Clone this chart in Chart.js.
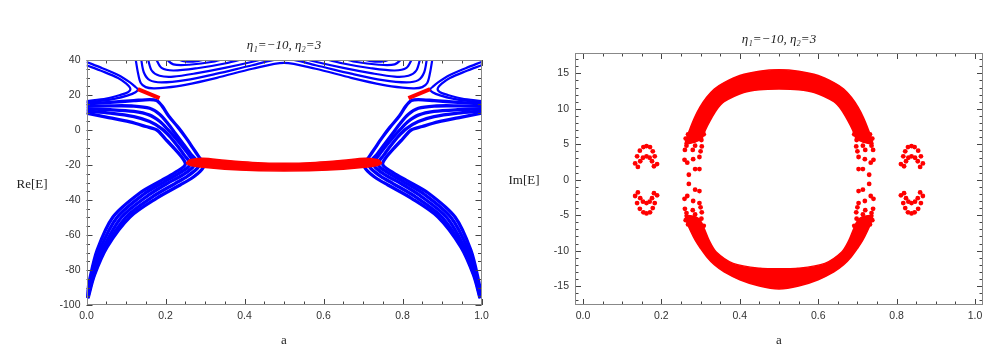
<!DOCTYPE html>
<html><head><meta charset="utf-8">
<script src="https://cdn.jsdelivr.net/npm/chart.js@4.4.1/dist/chart.umd.min.js"></script>
<style>
html,body{margin:0;padding:0;background:#fff;width:1004px;height:353px;overflow:hidden;}
#c1{position:absolute;left:0;top:0;}
#c2{position:absolute;left:500px;top:0;}
</style></head><body>
<canvas id="c1" width="500" height="353"></canvas>
<canvas id="c2" width="504" height="353"></canvas>
<script>
// ---------- Left panel: Re[E] vs a ----------
// chevron bands (left side a, right side a, shared E)
const cv1A  = [0, 0.06, 0.12, 0.16, 0.178, 0.192, 0.208, 0.232, 0.252, 0.27, 0.285, 0.297, 0.292, 0.268, 0.237, 0.178, 0.11, 0.052, 0.02, 0.004];
const cv1AR = [1, 0.94, 0.88, 0.84, 0.822, 0.808, 0.792, 0.768, 0.748, 0.73, 0.715, 0.703, 0.708, 0.732, 0.763, 0.822, 0.89, 0.948, 0.98, 0.996];
const cv1E  = [15.0, 15.8, 16.8, 17.4, 16.8, 13.5, 8.0, 1.5, -4.5, -10.5, -15.5, -19.4, -22.6, -27.3, -31.4, -38.9, -49.7, -66.9, -83.0, -96.0];
const cv2A  = [0, 0.06, 0.12, 0.16, 0.185, 0.205, 0.225, 0.245, 0.265, 0.28, 0.286, 0.28, 0.255, 0.224, 0.167, 0.099, 0.046, 0.017, 0.003];
const cv2AR = [1, 0.94, 0.88, 0.84, 0.815, 0.795, 0.775, 0.755, 0.735, 0.72, 0.714, 0.72, 0.745, 0.776, 0.833, 0.901, 0.954, 0.983, 0.997];
const cv2E  = [13.5, 13.8, 13.7, 12.4, 9.0, 4.0, -2.0, -8.0, -14.0, -17.5, -19.3, -22.0, -26.5, -30.6, -38.2, -50.0, -68.0, -84.0, -96.0];
const cv3A  = [0, 0.06, 0.12, 0.16, 0.185, 0.205, 0.225, 0.245, 0.262, 0.274, 0.268, 0.243, 0.21, 0.156, 0.088, 0.04, 0.014, 0.002];
const cv3AR = [1, 0.94, 0.88, 0.84, 0.815, 0.795, 0.775, 0.755, 0.738, 0.726, 0.732, 0.757, 0.79, 0.844, 0.912, 0.96, 0.986, 0.998];
const cv3E  = [12.0, 11.6, 10.6, 8.5, 5.0, 0.5, -4.5, -10.0, -15.0, -19.0, -21.6, -25.8, -29.8, -37.4, -50.0, -68.5, -84.5, -96.0];
const cv4A  = [0, 0.06, 0.12, 0.16, 0.19, 0.21, 0.23, 0.248, 0.262, 0.257, 0.232, 0.2, 0.145, 0.077, 0.033, 0.011, 0.001];
const cv4AR = [1, 0.94, 0.88, 0.84, 0.81, 0.79, 0.77, 0.752, 0.738, 0.743, 0.768, 0.8, 0.855, 0.923, 0.967, 0.989, 0.999];
const cv4E  = [10.8, 9.6, 7.6, 4.8, 0.8, -3.5, -9.0, -14.5, -18.9, -21.3, -25.1, -29.2, -36.7, -50.0, -68.8, -85.0, -96.0];
const cv5A  = [0, 0.05, 0.11, 0.15, 0.178, 0.2, 0.222, 0.24, 0.25, 0.247, 0.222, 0.19, 0.135, 0.067, 0.027, 0.008, 0];
const cv5AR = [1, 0.95, 0.89, 0.85, 0.822, 0.8, 0.778, 0.76, 0.75, 0.753, 0.778, 0.81, 0.865, 0.933, 0.973, 0.992, 1];
const cv5E  = [9.6, 7.4, 4.6, 2.0, 0.0, -5.2, -10.5, -15.2, -18.8, -20.8, -24.6, -28.8, -36.0, -49.7, -68.6, -85.5, -96.0];
// "<" curves from the top corners to the saddles
const b1A  = [0, 0.04, 0.08, 0.11, 0.124, 0.13, 0.124, 0.105, 0.07, 0.035, 0];
const b1AR = [1, 0.96, 0.92, 0.89, 0.876, 0.87, 0.876, 0.895, 0.93, 0.965, 1];
const b1E  = [38.9, 35.3, 31.4, 27.2, 24.6, 23.2, 21.6, 19.8, 17.8, 16.6, 16.0];
const b2A  = [0, 0.04, 0.08, 0.1, 0.111, 0.105, 0.085, 0.05, 0];
const b2AR = [1, 0.96, 0.92, 0.9, 0.889, 0.895, 0.915, 0.95, 1];
const b2E  = [37.0, 33.6, 29.7, 26.6, 23.6, 21.6, 20.0, 18.0, 16.5];
// upper arches
const ar1A = [0.124, 0.13, 0.137, 0.15, 0.17, 0.2, 0.25, 0.33, 0.42, 0.5, 0.58, 0.67, 0.75, 0.8, 0.83, 0.85, 0.863, 0.87, 0.876];
const ar1E = [41, 33, 27, 24.5, 23.8, 24.2, 25.8, 29.8, 35, 38.4, 35, 29.8, 25.8, 24.2, 23.8, 24.5, 27, 33, 41];
const ar2A = [0.138, 0.145, 0.16, 0.19, 0.25, 0.33, 0.42, 0.5, 0.58, 0.67, 0.75, 0.81, 0.84, 0.855, 0.862];
const ar2E = [41, 33, 28.5, 27.2, 28.5, 32.2, 37, 40.8, 37, 32.2, 28.5, 27.2, 28.5, 33, 41];
const ar3A = [0.155, 0.165, 0.185, 0.22, 0.28, 0.35, 0.42, 0.46];
const ar3AR = [0.845, 0.835, 0.815, 0.78, 0.72, 0.65, 0.58, 0.54];
const ar3E = [41, 34, 31, 30.5, 32.5, 35.5, 39, 41.5];
const ar4A = [0.175, 0.19, 0.22, 0.28, 0.35, 0.41];
const ar4AR = [0.825, 0.81, 0.78, 0.72, 0.65, 0.59];
const ar4E = [41, 35.5, 34, 35.3, 38, 41.5];
const ar5A = [0.2, 0.22, 0.26, 0.32, 0.36];
const ar5AR = [0.8, 0.78, 0.74, 0.68, 0.64];
const ar5E = [41, 37.5, 37.3, 39, 41.5];
const ar6A = [0.225, 0.25, 0.28, 0.31];
const ar6AR = [0.775, 0.75, 0.72, 0.69];
const ar6E = [41, 39.2, 39.4, 41];
// red (complex) parts
const sadLA = [0.13, 0.185], sadLE = [23.4, 18.2];
const sadRA = [0.815, 0.87], sadRE = [18.2, 23.4];
const bandA    = [0.252, 0.262, 0.295, 0.35, 0.42, 0.5, 0.58, 0.65, 0.705, 0.738, 0.748];
const bandTopE = [-18.9, -17.0, -16.1, -17.3, -18.5, -19.0, -18.5, -17.3, -16.1, -17.0, -18.9];
const bandBotE = [-18.9, -20.2, -21.3, -22.4, -23.2, -23.4, -23.2, -22.4, -21.3, -20.2, -18.9];

// ---------- Right panel: Im[E] vs a ----------
const upOutA = [0.26, 0.265, 0.273, 0.285, 0.298, 0.315, 0.335, 0.36, 0.40, 0.45, 0.5, 0.55, 0.60, 0.64, 0.665, 0.685, 0.702, 0.715, 0.727, 0.735, 0.74];
const upOutE = [5.0, 6.0, 7.2, 8.8, 10.2, 11.6, 12.8, 13.7, 14.7, 15.3, 15.5, 15.3, 14.7, 13.7, 12.8, 11.6, 10.2, 8.8, 7.2, 6.0, 5.0];
const upInA  = [0.26, 0.285, 0.303, 0.312, 0.324, 0.34, 0.36, 0.41, 0.45, 0.5, 0.55, 0.59, 0.64, 0.66, 0.676, 0.688, 0.697, 0.715, 0.74];
const upInE  = [5.0, 5.3, 5.8, 7.0, 8.3, 9.8, 11.0, 12.3, 12.7, 12.8, 12.7, 12.3, 11.0, 9.8, 8.3, 7.0, 5.8, 5.3, 5.0];
const loOutA = [0.26, 0.265, 0.275, 0.287, 0.3, 0.316, 0.335, 0.36, 0.40, 0.45, 0.5, 0.55, 0.60, 0.64, 0.665, 0.684, 0.70, 0.713, 0.725, 0.735, 0.74];
const loOutE = [-5.0, -6.0, -7.3, -8.6, -9.7, -10.9, -12.0, -13.0, -14.1, -15.0, -15.4, -15.0, -14.1, -13.0, -12.0, -10.9, -9.7, -8.6, -7.3, -6.0, -5.0];
const loInA  = [0.26, 0.285, 0.3, 0.31, 0.322, 0.34, 0.383, 0.452, 0.5, 0.548, 0.617, 0.66, 0.678, 0.69, 0.70, 0.715, 0.74];
const loInE  = [-5.0, -5.2, -5.8, -7.0, -8.6, -10.2, -11.8, -12.5, -12.55, -12.5, -11.8, -10.2, -8.6, -7.0, -5.8, -5.2, -5.0];
// scattered points on the ring sides
const sideLA = [0.270, 0.286, 0.297, 0.259, 0.266, 0.281, 0.297, 0.260, 0.264, 0.280, 0.286, 0.300, 0.303, 0.262, 0.268, 0.283, 0.290, 0.302, 0.308];
const sideRA = [0.730, 0.714, 0.703, 0.741, 0.734, 0.719, 0.703, 0.740, 0.736, 0.720, 0.714, 0.700, 0.697, 0.738, 0.732, 0.717, 0.710, 0.698, 0.692];
const sideUpE = [0.7, 1.5, 1.5, 2.8, 2.4, 2.9, 3.2, 4.2, 4.8, 4.2, 4.8, 4.0, 4.7, 5.8, 6.4, 5.5, 6.2, 5.6, 6.4];
const sideLoE = [-0.6, -1.4, -1.6, -2.7, -2.3, -3.0, -3.3, -4.1, -4.7, -4.3, -4.9, -3.9, -4.6, -5.7, -6.3, -5.6, -6.3, -5.5, -6.5];
// small arches at a≈0.16 and a≈0.84
const archOutLA = [0.133, 0.138, 0.145, 0.154, 0.162, 0.171, 0.178, 0.183, 0.189];
const archOutRA = [0.867, 0.862, 0.855, 0.846, 0.838, 0.829, 0.822, 0.817, 0.811];
const archOutUpE = [2.3, 3.3, 4.1, 4.6, 4.75, 4.6, 4.0, 3.3, 2.2];
const archOutLoE = [-2.3, -3.3, -4.1, -4.6, -4.75, -4.6, -4.0, -3.3, -2.2];
const archInLA = [0.140, 0.146, 0.153, 0.162, 0.170, 0.176, 0.181];
const archInRA = [0.860, 0.854, 0.847, 0.838, 0.830, 0.824, 0.819];
const archInUpE = [1.8, 2.6, 3.1, 3.3, 3.1, 2.6, 1.9];
const archInLoE = [-1.8, -2.6, -3.1, -3.3, -3.1, -2.6, -1.9];

// ---------- helpers ----------
const BLUE = '#0000ff', RED = '#ff0000';
const xy = (a, e) => a.map((x, i) => ({x: x, y: e[i]}));
function ln(a, e, color, w, extra) {
  return Object.assign({data: xy(a, e), borderColor: color, backgroundColor: color, borderWidth: w,
    pointRadius: 0, tension: 0.3, fill: false, clip: 0, capBezierPoints: false}, extra || {});
}
function pts(a, e) {
  return {data: xy(a, e), showLine: false, pointRadius: 2.4, pointBackgroundColor: RED,
    pointBorderColor: RED, pointBorderWidth: 0, borderColor: RED, backgroundColor: RED};
}
const near = (v, step) => Math.abs(v / step - Math.round(v / step)) < 1e-6;

const framePlugin = {
  id: 'frame',
  afterDatasetsDraw(chart, args, o) {
    const {ctx, chartArea: ca} = chart;
    const xs = chart.scales.x, ys = chart.scales.y;
    ctx.save();
    ctx.lineWidth = 1;
    ctx.strokeStyle = '#444';
    ctx.beginPath();
    xs.ticks.forEach(t => {
      const px = Math.round(xs.getPixelForValue(t.value)) + 0.5;
      const len = near(t.value, o.xMajor) ? 6 : 3.5;
      ctx.moveTo(px, ca.bottom); ctx.lineTo(px, ca.bottom - len);
      ctx.moveTo(px, ca.top); ctx.lineTo(px, ca.top + len);
    });
    ys.ticks.forEach(t => {
      const py = Math.round(ys.getPixelForValue(t.value)) + 0.5;
      const len = near(t.value, o.yMajor) ? 6 : 3.5;
      ctx.moveTo(ca.left, py); ctx.lineTo(ca.left + len, py);
      ctx.moveTo(ca.right, py); ctx.lineTo(ca.right - len, py);
    });
    ctx.stroke();
    ctx.strokeStyle = '#888';
    ctx.strokeRect(Math.round(ca.left) + 0.5, Math.round(ca.top) + 0.5,
      Math.round(ca.right - ca.left) - 1, Math.round(ca.bottom - ca.top) - 1);
    ctx.fillStyle = '#222';
    ctx.font = '13px "Liberation Serif", serif';
    ctx.textAlign = 'center';
    ctx.textBaseline = 'middle';
    ctx.fillText(o.yLabel, o.yLabelX, o.yLabelY);
    ctx.restore();
  }
};

function makeChart(id, datasets, o) {
  return new Chart(document.getElementById(id), {
    type: 'line',
    data: {datasets: datasets},
    options: {
      responsive: false, animation: false, events: [],
      layout: {padding: {left: 0, right: o.padRight, top: 0, bottom: 0}},
      plugins: {
        legend: {display: false}, tooltip: {enabled: false},
        title: {display: true, fullSize: false, text: 'η₁=−10, η₂=3', color: '#222',
          font: {family: '"Liberation Serif", serif', size: 13, style: 'italic', weight: 'normal', lineHeight: 1.2},
          padding: {top: o.titleTop, bottom: o.titleBottom}},
        frame: {yLabel: o.yLabel, yLabelX: o.yLabelX, yLabelY: o.yLabelY, xMajor: 0.2, yMajor: o.yMajor}
      },
      scales: {
        x: {type: 'linear', min: o.xMin, max: o.xMax,
          grid: {display: false, drawTicks: false}, border: {display: false},
          ticks: {stepSize: 0.05, includeBounds: false, autoSkip: false, maxRotation: 0, padding: 5, color: '#333',
            font: {family: '"Liberation Sans", sans-serif', size: 10.5},
            callback: v => near(v, 0.2) ? (Math.round(v * 10) / 10).toFixed(1) : ''},
          title: {display: true, text: 'a', color: '#222', font: {family: '"Liberation Serif", serif', size: 13},
            padding: {top: 0, bottom: 5}},
          afterFit: s => { s.height = 48; }},
        y: {type: 'linear', min: o.yMin, max: o.yMax,
          grid: {display: false, drawTicks: false}, border: {display: false},
          ticks: {stepSize: o.yStep, includeBounds: false, autoSkip: false, padding: 6, color: '#333',
            font: {family: '"Liberation Sans", sans-serif', size: 10.5},
            callback: v => near(v, o.yMajor) ? String(Math.round(v)) : ''},
          afterFit: s => { s.width = o.yWidth; }}
      }
    },
    plugins: [framePlugin]
  });
}

// ---------- left chart ----------
const leftSets = [
  ln(bandA, bandTopE, RED, 1.5, {fill: '+1'}),
  ln(bandA, bandBotE, RED, 1.5),
  ln(sadLA, sadLE, RED, 4, {tension: 0}),
  ln(sadRA, sadRE, RED, 4, {tension: 0}),
];
[[cv1A, cv1E], [cv1AR, cv1E], [cv2A, cv2E], [cv2AR, cv2E], [cv3A, cv3E], [cv3AR, cv3E],
 [cv4A, cv4E], [cv4AR, cv4E], [cv5A, cv5E], [cv5AR, cv5E]
].forEach(p => leftSets.push(ln(p[0], p[1], BLUE, 3.3)));
[[b1A, b1E], [b1AR, b1E], [b2A, b2E], [b2AR, b2E],
 [ar1A, ar1E], [ar2A, ar2E], [ar3A, ar3E], [ar3AR, ar3E], [ar4A, ar4E], [ar4AR, ar4E],
 [ar5A, ar5E], [ar5AR, ar5E], [ar6A, ar6E], [ar6AR, ar6E]
].forEach(p => leftSets.push(ln(p[0], p[1], BLUE, 2.2)));

makeChart('c1', leftSets, {padRight: 18.5, titleTop: 38.2, titleBottom: 6.2, yWidth: 86.5,
  xMin: 0, xMax: 1, yMin: -100, yMax: 40, yStep: 5, yMajor: 20,
  yLabel: 'Re[E]', yLabelX: 32, yLabelY: 185});

// ---------- right chart ----------
const rightSets = [
  ln(upOutA, upOutE, RED, 1.5, {fill: '+1'}),
  ln(upInA, upInE, RED, 1.5),
  ln(loOutA, loOutE, RED, 1.5, {fill: '+1'}),
  ln(loInA, loInE, RED, 1.5),
  pts(sideLA, sideUpE), pts(sideRA, sideUpE), pts(sideLA, sideLoE), pts(sideRA, sideLoE),
  pts(archOutLA, archOutUpE), pts(archOutRA, archOutUpE), pts(archOutLA, archOutLoE), pts(archOutRA, archOutLoE),
  pts(archInLA, archInUpE), pts(archInRA, archInUpE), pts(archInLA, archInLoE), pts(archInRA, archInLoE)
];
makeChart('c2', rightSets, {padRight: 21, titleTop: 32.2, titleBottom: 5.2, yWidth: 75,
  xMin: -0.0204, xMax: 1.0204, yMin: -17.67, yMax: 17.87, yStep: 1, yMajor: 5,
  yLabel: 'Im[E]', yLabelX: 24, yLabelY: 181});
</script></body></html>
